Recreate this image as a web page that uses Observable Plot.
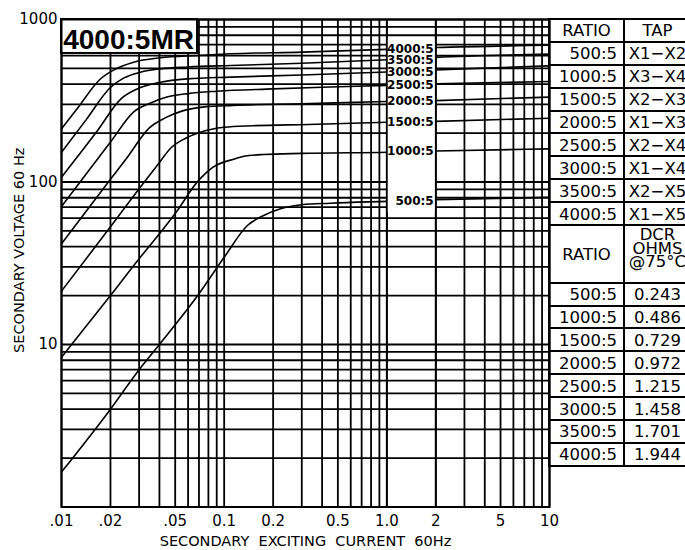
<!DOCTYPE html>
<html>
<head>
<meta charset="utf-8">
<script src="https://cdn.jsdelivr.net/npm/d3@7"></script>
<script src="https://cdn.jsdelivr.net/npm/@observablehq/plot@0.6"></script>
<style>
html,body{margin:0;padding:0;background:#fff;overflow:hidden}
#wrap{position:relative;width:685px;height:550px;overflow:hidden;background:#fff}
#wrap svg{position:absolute;left:0;top:0}
#tbl{position:absolute;left:548px;top:18px;display:grid;grid-template-columns:75px 67px;
  grid-template-rows:repeat(9,22.9px) 57.6px repeat(8,22.9px);
  border-top:2px solid #000;border-left:2px solid #000;
  font-family:"DejaVu Sans";font-size:16.5px;color:#000}
#tbl > div{box-sizing:border-box;border-right:2px solid #000;border-bottom:2px solid #000;
  display:flex;align-items:center;white-space:nowrap;padding-top:1px}
#tbl .r{justify-content:flex-end;padding-right:6px}
#tbl .c{justify-content:center}
#tbl .dcr{flex-direction:column;align-items:center;justify-content:flex-start;line-height:13.5px;padding-top:2px}
</style>
</head>
<body>
<div id="wrap"><div id="tbl"></div></div>
<script>
// ---- data ----
const ratios = ["500:5","1000:5","1500:5","2000:5","2500:5","3000:5","3500:5","4000:5"];
const taps = ["X1\u2212X2","X3\u2212X4","X2\u2212X3","X1\u2212X3","X2\u2212X4","X1\u2212X4","X2\u2212X5","X1\u2212X5"];
const dcrOhms = ["0.243","0.486","0.729","0.972","1.215","1.458","1.701","1.944"];

const xTicks = [0.01,0.02,0.05,0.1,0.2,0.5,1,2,5,10];
const xTickLabels = [".01",".02",".05","0.1","0.2","0.5","1.0","2","5","10"];
const yTicks = [10,100,1000];
const yTickLabels = ["10","100","1000"];

const xGrid = [0.01,0.02,0.03,0.04,0.05,0.06,0.07,0.08,0.09,
               0.1,0.2,0.3,0.4,0.5,0.6,0.7,0.8,0.9,
               1,2,3,4,5,6,7,8,9,10];
const yGrid = [1,2,3,4,5,6,7,8,9,
               10,20,30,40,50,60,70,80,90,
               100,200,300,400,500,600,700,800,900,1000];

// [secondary exciting current A, secondary voltage V]
const c500  = [[0.01,1.64],[0.02,4.0],[0.03,7.0],[0.04,10],[0.07,20.5],[0.1,34.4],[0.139,54],[0.175,62.2],[0.222,68.4],[0.3,72.4],[0.45,74],[1,76],[2,77.7],[10,80.6]];
const c1000 = [[0.01,8.35],[0.02,20],[0.03,33.7],[0.04,48],[0.05,64],[0.07,103],[0.085,123],[0.117,139],[0.132,144],[0.175,147.7],[0.3,150],[1,152.5],[2,155],[10,160]];
const c1500 = [[0.01,21.3],[0.02,53],[0.03,91],[0.04,132],[0.047,162],[0.058,186],[0.072,203],[0.1,217],[0.15,222],[0.33,226],[1,233],[2,236],[10,247]];
const c2000 = [[0.01,41.7],[0.02,104],[0.025,139],[0.0348,216],[0.0437,249],[0.0555,274],[0.0755,290],[0.113,296],[0.3,303],[1,313],[2,317],[10,333]];
const c2500 = [[0.01,70.7],[0.02,176],[0.0278,270],[0.035,305],[0.0444,333],[0.06,350],[0.09,362],[0.2,374],[0.4,383],[1,393],[2,402],[10,415]];
const c3000 = [[0.01,107],[0.0167,208],[0.0232,325],[0.0292,374],[0.0406,411],[0.0593,431],[0.109,442],[0.3,455],[1,475],[2,490],[10,518]];
const c3500 = [[0.01,152.5],[0.0142,242],[0.0199,380],[0.0242,437],[0.0306,474],[0.0406,497],[0.06,510],[0.11,521],[0.3,538],[1,565],[2,585],[10,612]];
const c4000 = [[0.01,212.5],[0.0124,280],[0.0174,432],[0.021,490],[0.0278,546],[0.0406,581],[0.0683,600],[0.109,615],[0.3,630],[1,655],[2,672],[10,695]];
const seriesList = [c500,c1000,c1500,c2000,c2500,c3000,c3500,c4000];

const labelVolts = [76.2,154,233,313,392.6,474,563,654];

const chartTitle = "4000:5MR";
const xTitle = "SECONDARY  EXCITING  CURRENT  60Hz";
const yTitle = "SECONDARY VOLTAGE 60 Hz";

// ---- chart ----
const yFmt = new Map(yTicks.map((t,i)=>[t,yTickLabels[i]]));

const chart = Plot.plot({
  width: 685, height: 550,
  marginLeft: 61, marginRight: 136, marginTop: 19, marginBottom: 43.5,
  style: {fontFamily: "DejaVu Sans", fontSize: "15px", color: "#000", background: "white"},
  x: {type: "log", domain: [0.01,10], axis: null},
  y: {type: "log", domain: [1,1000], ticks: yTicks, tickFormat: d => yFmt.get(d), tickSize: 0, tickPadding: 4, label: null},
  marks: [
    Plot.ruleY(yGrid, {stroke: "#000", strokeWidth: 1.8}),
    Plot.ruleX(xGrid, {stroke: "#000", strokeWidth: 1.8}),
    ...seriesList.map(s => Plot.line(s, {x: d => d[0], y: d => d[1], curve: "monotone-x", stroke: "#000", strokeWidth: 1.6})),
    Plot.rect([0], {x1: 1, x2: 2, y1: 65, y2: 750, fill: "white"}),
    Plot.ruleX([1,2], {stroke: "#000", strokeWidth: 1.8}),
    Plot.text(ratios, {x: 1.94, y: (d,i) => labelVolts[i], text: d => d, textAnchor: "end", fontSize: 12, fontWeight: "bold"}),
    Plot.rect([0], {x1: 0.01, x2: 0.0686, y1: 618, y2: 1000, fill: "white", stroke: "#000", strokeWidth: 2}),
    Plot.text([chartTitle], {frameAnchor: "top-left", text: d => d, dx: 1.7, dy: 10.1, lineAnchor: "top", textAnchor: "start", fontFamily: "Liberation Sans", fontWeight: "bold", fontSize: 28}),
    Plot.text(xTicks, {x: d => d, frameAnchor: "bottom", text: (d,i) => xTickLabels[i], textAnchor: "middle", dy: 18.5, fontSize: 15}),
    Plot.text([xTitle], {frameAnchor: "bottom", text: d => d, textAnchor: "middle", dy: 38.5, fontSize: 14.5}),
    Plot.text([yTitle], {frameAnchor: "left", text: d => d, textAnchor: "middle", rotate: -90, dx: -42.5, dy: -13, fontSize: 14.5}),
    Plot.frame({stroke: "#000", strokeWidth: 2})
  ]
});
const wrap = document.getElementById("wrap");
wrap.insertBefore(chart, wrap.firstChild);

// ---- table ----
const tbl = document.getElementById("tbl");
function cell(html, cls) { const d = document.createElement("div"); d.className = cls; d.innerHTML = html; tbl.appendChild(d); }
cell("RATIO", "c"); cell("TAP", "c");
ratios.forEach((r,i) => { cell(r, "r"); cell(taps[i], "c"); });
cell("RATIO", "c"); cell("<span>DCR</span><span>OHMS</span><span>@75\u00B0C</span>", "dcr");
ratios.forEach((r,i) => { cell(r, "r"); cell(dcrOhms[i], "c"); });
</script>
</body>
</html>
